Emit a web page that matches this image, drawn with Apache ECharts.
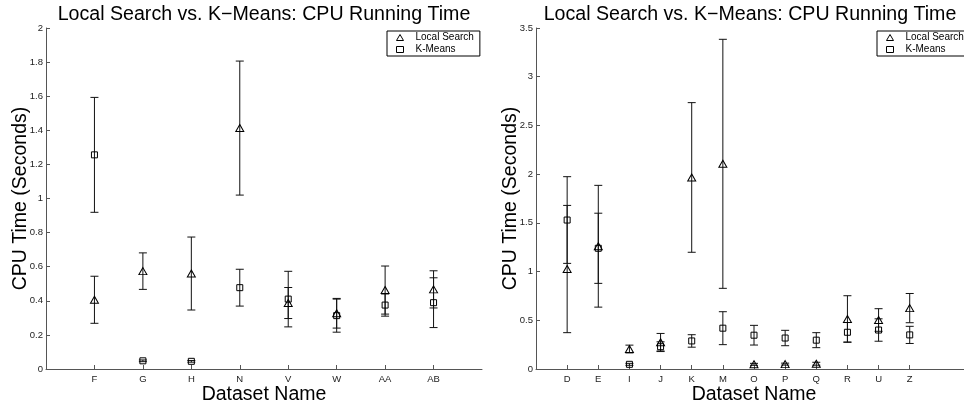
<!DOCTYPE html>
<html>
<head>
<meta charset="utf-8">
<script src="https://cdn.jsdelivr.net/npm/echarts@6/dist/echarts.min.js"></script>
<style>
  html, body { margin: 0; padding: 0; background: #fff; }
  #chart { width: 964px; height: 406px; }
</style>
</head>
<body>
<div id="chart"></div>
<script>
// left panel
const leftNames = ['F', 'G', 'H', 'N', 'V', 'W', 'AA', 'AB'];
const leftLsMean = [0.406, 0.574, 0.56, 1.413, 0.387, 0.327, 0.463, 0.467];
const leftLsErr = [0.138, 0.107, 0.214, 0.393, 0.091, 0.087, 0.141, 0.109];
const leftKmMean = [1.256, 0.048, 0.045, 0.477, 0.41, 0.313, 0.375, 0.389];
const leftKmErr = [0.337, 0.005, 0.005, 0.108, 0.163, 0.097, 0.065, 0.146];
const leftTicks = [0, 0.2, 0.4, 0.6, 0.8, 1, 1.2, 1.4, 1.6, 1.8, 2];

// right panel
const rightNames = ['D', 'E', 'I', 'J', 'K', 'M', 'O', 'P', 'Q', 'R', 'U', 'Z'];
const rightLsMean = [1.026, 1.26, 0.205, 0.275, 1.966, 2.106, 0.048, 0.05, 0.054, 0.513, 0.503, 0.625];
const rightLsErr = [0.653, 0.625, 0.04, 0.09, 0.768, 1.278, 0.01, 0.01, 0.015, 0.239, 0.116, 0.15];
const rightKmMean = [1.529, 1.239, 0.048, 0.229, 0.288, 0.419, 0.347, 0.318, 0.296, 0.377, 0.4, 0.35];
const rightKmErr = [0.445, 0.36, 0.01, 0.05, 0.064, 0.169, 0.101, 0.079, 0.077, 0.1, 0.115, 0.088];
const rightTicks = [0, 0.5, 1, 1.5, 2, 2.5, 3, 3.5];

const FONT = '"Liberation Sans", Arial, Helvetica, sans-serif';
const chart = echarts.init(document.getElementById('chart'));

function positions(names) {
    return names.map((n, i) => i + 1);
}
function errData(means, errs) {
    return means.map((m, i) => [i + 1, m - errs[i], m + errs[i]]);
}
function pointData(means) {
    return means.map((m, i) => [i + 1, m]);
}

function renderErr(params, api) {
    const x = api.value(0);
    const lo = api.coord([x, api.value(1)]);
    const hi = api.coord([x, api.value(2)]);
    const w = 4;
    const style = { stroke: '#111', lineWidth: 1 };
    return {
        type: 'group',
        children: [
            { type: 'line', shape: { x1: lo[0], y1: lo[1], x2: hi[0], y2: hi[1] }, style: style },
            { type: 'line', shape: { x1: lo[0] - w, y1: lo[1], x2: lo[0] + w, y2: lo[1] }, style: style },
            { type: 'line', shape: { x1: hi[0] - w, y1: hi[1], x2: hi[0] + w, y2: hi[1] }, style: style }
        ]
    };
}

function xAxisOf(idx, names, max) {
    return {
        gridIndex: idx,
        type: 'value',
        min: 0,
        max: max,
        name: 'Dataset Name',
        nameLocation: 'middle',
        nameGap: 16,
        nameMoveOverlap: false,
        nameTextStyle: { fontFamily: FONT, fontSize: 19.5, color: '#000' },
        axisLine: { lineStyle: { color: '#555', width: 1 } },
        axisTick: { inside: true, length: 4, customValues: positions(names), lineStyle: { color: '#555' } },
        axisLabel: {
            customValues: positions(names),
            formatter: v => names[Math.round(v) - 1] || '',
            fontFamily: FONT, fontSize: 9.5, color: '#222', margin: 5
        },
        splitLine: { show: false }
    };
}

function yAxisOf(idx, ticks) {
    return {
        gridIndex: idx,
        type: 'value',
        min: ticks[0],
        max: ticks[ticks.length - 1],
        interval: ticks[1] - ticks[0],
        name: 'CPU Time (Seconds)',
        nameLocation: 'middle',
        nameGap: 15,
        nameMoveOverlap: false,
        nameTextStyle: { fontFamily: FONT, fontSize: 19.5, color: '#000' },
        axisLine: { show: true, lineStyle: { color: '#555', width: 1 } },
        axisTick: { show: true, inside: true, length: 4, lineStyle: { color: '#555' } },
        axisLabel: { fontFamily: FONT, fontSize: 9.5, color: '#222', margin: 3 },
        splitLine: { show: false }
    };
}

function seriesOf(idx, lsMean, lsErr, kmMean, kmErr) {
    return [
        {
            type: 'custom', xAxisIndex: idx, yAxisIndex: idx,
            renderItem: renderErr, data: errData(lsMean, lsErr), silent: true, z: 1
        },
        {
            type: 'custom', xAxisIndex: idx, yAxisIndex: idx,
            renderItem: renderErr, data: errData(kmMean, kmErr), silent: true, z: 1
        },
        {
            name: 'Local Search', type: 'scatter', xAxisIndex: idx, yAxisIndex: idx,
            symbol: 'triangle', symbolSize: [8, 7],
            itemStyle: { color: 'rgba(255,255,255,0)', borderColor: '#000', borderWidth: 1, opacity: 1 },
            data: pointData(lsMean), z: 3
        },
        {
            name: 'K-Means', type: 'scatter', xAxisIndex: idx, yAxisIndex: idx,
            symbol: 'rect', symbolSize: 6,
            itemStyle: { color: 'rgba(255,255,255,0)', borderColor: '#000', borderWidth: 1, opacity: 1 },
            data: pointData(kmMean), z: 3
        }
    ];
}

function legendOf(left) {
    return {
        left: left, top: 31,
        orient: 'vertical',
        data: [
            { name: 'Local Search', icon: 'triangle' },
            { name: 'K-Means', icon: 'rect' }
        ],
        itemWidth: 7, itemHeight: 6, itemGap: 1,
        padding: [1, 6, 1, 9],
        itemStyle: { color: 'rgba(255,255,255,0)', borderColor: '#000', borderWidth: 1 },
        borderColor: '#000', borderWidth: 1, borderRadius: 0,
        backgroundColor: '#fff',
        selectedMode: false,
        textStyle: { fontFamily: FONT, fontSize: 10, color: '#000', lineHeight: 11, padding: [0, 0, 0, 7] }
    };
}

chart.setOption({
    animation: false,
    backgroundColor: '#fff',
    title: [
        {
            text: 'Local Search vs. K\u2212Means: CPU Running Time',
            left: 259, top: 0, textAlign: 'center',
            textStyle: { fontFamily: FONT, fontSize: 19.6, fontWeight: 'normal', color: '#000' }
        },
        {
            text: 'Local Search vs. K\u2212Means: CPU Running Time',
            left: 745, top: 0, textAlign: 'center',
            textStyle: { fontFamily: FONT, fontSize: 19.6, fontWeight: 'normal', color: '#000' }
        }
    ],
    legend: [legendOf(387), legendOf(877)],
    grid: [
        { left: 46, right: 482, top: 28, bottom: 37, outerBoundsMode: 'none' },
        { left: 536, right: -8, top: 28, bottom: 37, outerBoundsMode: 'none' }
    ],
    xAxis: [xAxisOf(0, leftNames, 9), xAxisOf(1, rightNames, 14)],
    yAxis: [yAxisOf(0, leftTicks), yAxisOf(1, rightTicks)],
    series: seriesOf(0, leftLsMean, leftLsErr, leftKmMean, leftKmErr)
        .concat(seriesOf(1, rightLsMean, rightLsErr, rightKmMean, rightKmErr))
});
</script>
</body>
</html>
